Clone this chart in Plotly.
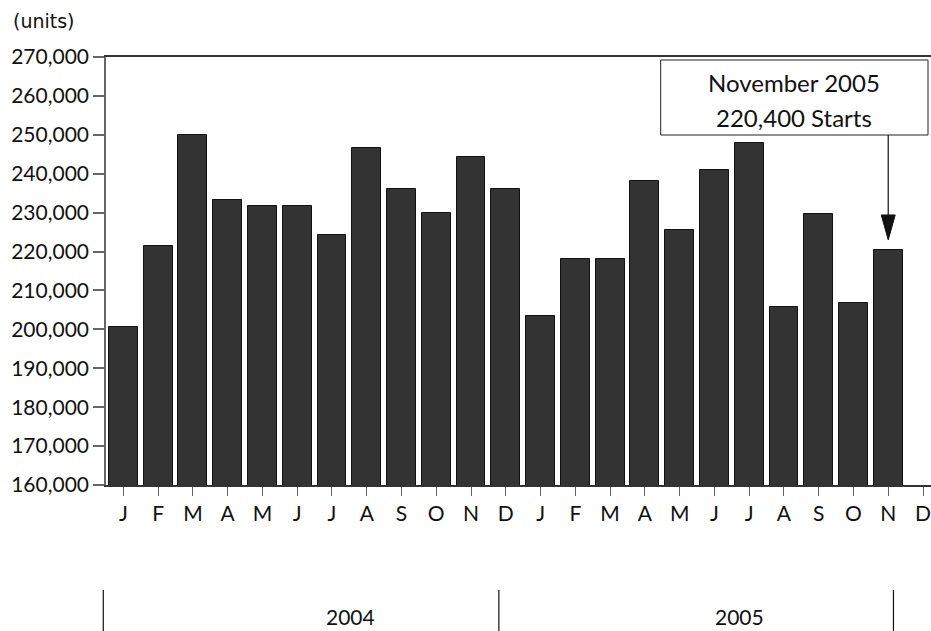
import plotly.graph_objects as go

# ---- data ----
month_letters = ["J", "F", "M", "A", "M", "J", "J", "A", "S", "O", "N", "D"]
tick_labels = month_letters * 2
starts = [200700, 221500, 250000, 233300, 231700, 231700, 224300, 246700, 236100, 230000, 244200, 236100,
          203500, 218100, 218100, 238200, 225500, 241000, 247900, 205700, 229700, 206800, 220400]
years = ["2004", "2005"]
callout_lines = ["November 2005", "220,400 Starts"]
y_ticks = list(range(160000, 270001, 10000))

FONT = "Lato"
x_idx = list(range(len(starts)))
last = len(starts) - 1
X_RANGE = [-0.5, 23.23]


def to_paper(xv):
    return (xv - X_RANGE[0]) / (X_RANGE[1] - X_RANGE[0])


fig = go.Figure()
fig.add_trace(go.Bar(
    x=x_idx, y=starts, width=0.83,
    marker=dict(color="#333333", line=dict(color="#111111", width=1)),
    showlegend=False, hoverinfo="x+y",
))

fig.update_layout(
    width=931, height=631,
    margin=dict(l=106, r=0, t=57, b=146),
    plot_bgcolor="white", paper_bgcolor="white",
    font=dict(family=FONT, size=21, color="#111111"),
    bargap=0,
)
fig.update_xaxes(
    range=X_RANGE, automargin=False,
    tickmode="array", tickvals=list(range(len(tick_labels))), ticktext=tick_labels,
    ticks="outside", ticklen=9, tickcolor="#666666", tickwidth=1.2,
    showline=True, linecolor="#333333", linewidth=1.5, mirror=True,
    showgrid=False, zeroline=False,
    tickfont=dict(family=FONT, size=21, color="#111111"),
    ticklabelstandoff=0,
)
fig.update_yaxes(
    range=[160000, 270000], automargin=False,
    tickmode="array", tickvals=y_ticks, tickformat=",",
    ticks="outside", ticklen=11, tickcolor="#666666", tickwidth=1.5,
    showline=True, linecolor="#666666", linewidth=1.5,
    showgrid=False, zeroline=False,
    tickfont=dict(family=FONT, size=21, color="#111111"),
    ticklabelstandoff=0,
)

# units label
fig.add_annotation(text="(units)", xref="paper", yref="paper", x=-106/825 + 11/825, y=1 + 36/428,
                   xanchor="left", yanchor="middle", showarrow=False,
                   font=dict(family="DejaVu Sans", size=19, color="#111111"))

# year axis: dividers and labels
for xv in [-0.578, 10.80, 22.15]:
    px = to_paper(xv)
    fig.add_shape(type="line", xref="paper", yref="paper", x0=px, x1=px, y0=-105/428, y1=-146/428,
                  line=dict(color="#111111", width=1.2))
for lbl, xv in zip(years, [6.546, 17.73]):
    fig.add_annotation(text=lbl, xref="x", yref="paper", x=xv, y=-131.5/428,
                       showarrow=False, xanchor="center", yanchor="middle",
                       font=dict(family=FONT, size=21, color="#111111"))

# callout box
bx0, bx1 = (660.7 - 106) / 825, (928 - 106) / 825
by0, by1 = (485 - 135) / 428, (485 - 60) / 428
fig.add_shape(type="rect", xref="paper", yref="paper", x0=bx0, x1=bx1, y0=by0, y1=by1,
              line=dict(color="#222222", width=1), fillcolor="white")
for i, line in enumerate(callout_lines):
    fig.add_annotation(text=line, xref="paper", yref="paper", x=(bx0 + bx1) / 2,
                       y=(485 - (82 + 35 * i)) / 428, showarrow=False,
                       xanchor="center", yanchor="middle",
                       font=dict(family=FONT, size=24, color="#111111"))

# arrow to last bar
v = starts[last]
tip = v + 2600
base = v + 9000
fig.add_shape(type="line", xref="x", yref="y", x0=last, x1=last, y0=base, y1=249950,
              line=dict(color="#222222", width=1.3))
fig.add_shape(type="path", xref="x", yref="y",
              path=f"M {last-0.2} {base} L {last+0.2} {base} L {last} {tip} Z",
              fillcolor="#111111", line=dict(color="#111111", width=1))

fig.write_html("out.html", config={"displayModeBar": False},
               post_script="document.body.style.margin='0';document.body.style.overflow='hidden';")
